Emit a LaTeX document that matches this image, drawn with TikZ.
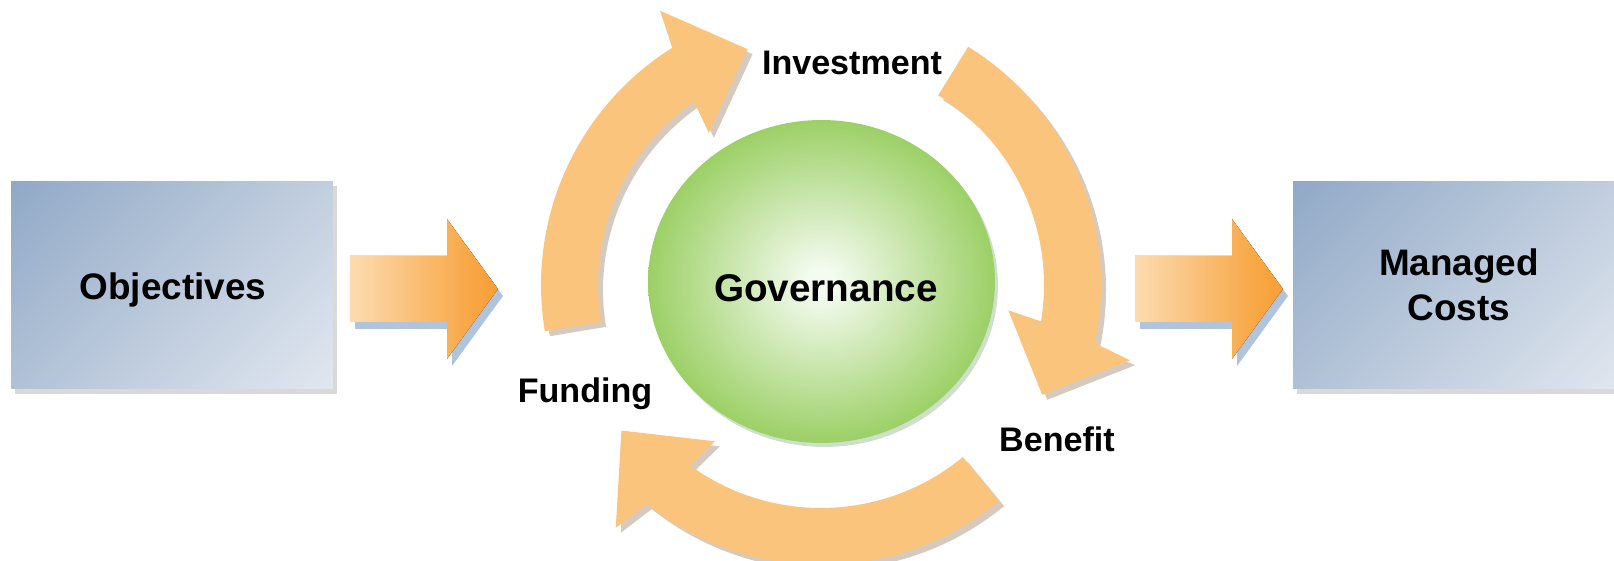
\documentclass[tikz,border=0pt]{standalone}
\usepackage{fontspec}
\setmainfont{Liberation Sans}
\usetikzlibrary{shadows, shapes.geometric}

\definecolor{boxblue}{RGB}{128,156,190}
\definecolor{boxlight}{RGB}{242,244,248}
\definecolor{flowlight}{RGB}{255,251,244}
\definecolor{flowmid}{RGB}{248,168,70}
\definecolor{floworange}{RGB}{246,132,12}
\definecolor{flowshadow}{RGB}{80,125,180}
\definecolor{cyclefill}{RGB}{250,196,124}
\definecolor{cycleshadow}{RGB}{120,80,40}
\definecolor{govgreen}{RGB}{156,208,102}
\definecolor{govlight}{RGB}{244,251,240}

\pgfdeclareverticalshading{boxshade}{100bp}{color(0bp)=(boxlight); color(100bp)=(boxblue)}
\pgfdeclarehorizontalshading{flowshade}{100bp}{color(0bp)=(flowlight); color(65bp)=(flowmid); color(100bp)=(floworange)}
\pgfdeclareradialshading{govshade}{\pgfpoint{0bp}{0bp}}{color(0bp)=(govlight); color(2bp)=(govlight); color(25bp)=(govgreen); color(50bp)=(govgreen)}

\tikzset{
	block/.style={shading=boxshade, shading angle=45, inner sep=0pt, minimum height=4.16cm,
		drop shadow={opacity=0.3, shadow xshift=0.08cm, shadow yshift=-0.1cm}},
	flow/.style={shading=flowshade,
		drop shadow={fill=flowshadow, opacity=0.45, shadow xshift=0.1cm, shadow yshift=-0.14cm}},
	cyclearrow/.style={fill=cyclefill,
		drop shadow={fill=cycleshadow, opacity=0.3, shadow xshift=0.1cm, shadow yshift=-0.1cm}},
	govball/.style={ellipse, shading=govshade, inner sep=0pt, minimum width=6.94cm, minimum height=6.46cm,
		drop shadow={fill=black!60!green, opacity=0.2, shadow xshift=0.06cm, shadow yshift=-0.08cm}},
	bigtext/.style={font=\fontsize{21}{25.5}\selectfont\bfseries, align=center},
	steptext/.style={font=\fontsize{19.4}{23}\selectfont\bfseries, anchor=base}
}

\begin{document}
\begin{tikzpicture}[x=0.02cm, y=0.02cm]
	\path[use as bounding box] (0,0) rectangle (1614,561);
	\clip (0,0) rectangle (1614,561);
	
	\node[block, minimum width=6.44cm] (obj) at (172,276) {};
	\node[bigtext] (objtext) at (173,271) {Objectives};
	
	\node[block, minimum width=6.64cm] (costs) at (1459,276) {};
	\node[bigtext] (coststext) at (costs) {Managed \\ Costs};
	
	% flow arrows in and out of the cycle
	\foreach \x in {0,785}
		\fill[flow, shift={(\x,0)}] (350,239) -- (447,239) -- (447,202) -- (498,272)
			-- (447,342) -- (447,305) -- (350,305) -- cycle;
	
	\node[govball] (gov) at (821.5,279.5) {};
	\node[bigtext, font=\fontsize{22}{26}\selectfont\bfseries] (govtext) at (826,273) {Governance};
	
	% cycle arrows: start / head base / tip angle
	\begin{scope}[shift={(821,276)}]
		\foreach \s/\b/\t in {189.5/123.4/107.3, 58.3/-10.7/-26.4, -50.5/-127.2/-143.9}
			\fill[cyclearrow] (\s:280) arc[start angle=\s, end angle=\b-1.3, radius=280]
				-- ({\b-3}:318) -- (\t:247) -- ({\b+3}:189) -- ({\b+1.3}:223)
				arc[start angle=\b+1.3, end angle=\s, radius=223] -- cycle;
	\end{scope}
	
	\node[steptext] (inv) at (852,486) {Investment};
	\node[steptext] (fund) at (585,158) {Funding};
	\node[steptext] (ben) at (1057,109) {Benefit};
\end{tikzpicture}
\end{document}
